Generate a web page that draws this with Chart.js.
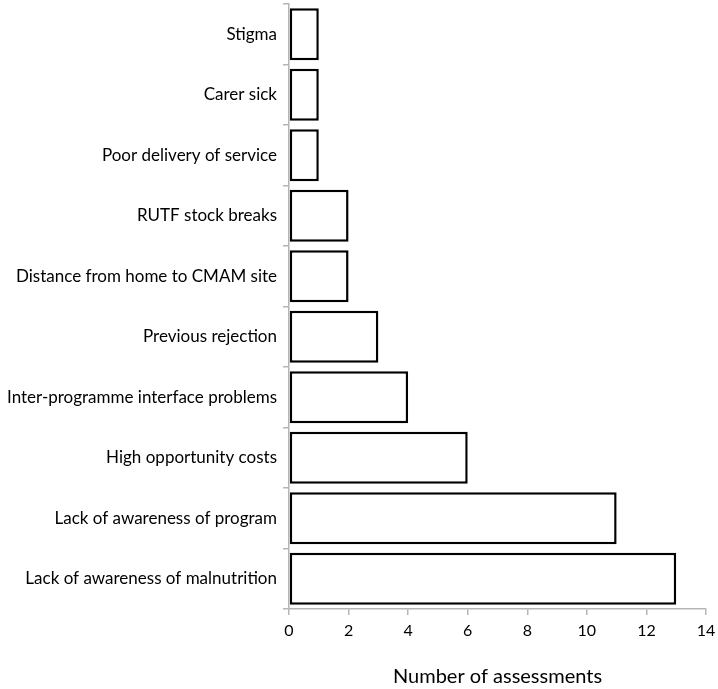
<!DOCTYPE html>
<html>
<head>
<meta charset="utf-8">
<script src="https://cdn.jsdelivr.net/npm/chart.js@4.4.0/dist/chart.umd.min.js"></script>
<style>
  html, body { margin: 0; padding: 0; background: #fff; }
  #wrap { width: 718px; height: 689px; }
</style>
</head>
<body>
<div id="wrap"><canvas id="chart" width="718" height="689"></canvas></div>
<script>
const barriers = [
  "Stigma",
  "Carer sick",
  "Poor delivery of service",
  "RUTF stock breaks",
  "Distance from home to CMAM site",
  "Previous rejection",
  "Inter-programme interface problems",
  "High opportunity costs",
  "Lack of awareness of program",
  "Lack of awareness of malnutrition",
];
const assessments = [1, 1, 1, 2, 2, 3, 4, 6, 11, 13];
const xTicks = [0, 2, 4, 6, 8, 10, 12, 14];

const FONT = "Lato, 'Open Sans', sans-serif";
const AXIS_GREY = "#b5b5b5";

const ctx = document.getElementById("chart").getContext("2d");
new Chart(ctx, {
  type: "bar",
  data: {
    labels: barriers,
    datasets: [
      {
        data: assessments,
        backgroundColor: "#ffffff",
        borderColor: "#000000",
        borderWidth: 2.5,
        borderSkipped: false,
        barPercentage: 0.86,
        categoryPercentage: 1,
      },
    ],
  },
  options: {
    indexAxis: "y",
    responsive: false,
    animation: false,
    layout: { padding: { top: 4, right: 12, bottom: 0, left: 0 } },
    plugins: { legend: { display: false }, tooltip: { enabled: false } },
    scales: {
      x: {
        min: 0,
        max: 14,
        afterBuildTicks: (scale) => {
          scale.ticks = xTicks.map((v) => ({ value: v }));
        },
        afterFit: (scale) => {
          scale.height = 80;
          scale.paddingLeft = 0;
          scale.paddingRight = 0;
        },
        ticks: { color: "#000", font: { family: FONT, size: 16 }, padding: 6 },
        grid: { drawOnChartArea: false, tickLength: 6, color: AXIS_GREY, lineWidth: 1.5 },
        border: { color: AXIS_GREY, width: 1.5 },
        title: {
          display: true,
          text: "Number of assessments",
          color: "#000",
          font: { family: FONT, size: 20 },
          padding: { top: 18, bottom: 0 },
        },
      },
      y: {
        afterFit: (scale) => {
          scale.width = 289;
          scale.paddingTop = 0;
          scale.paddingBottom = 0;
        },
        ticks: { color: "#000", font: { family: FONT, size: 17 }, padding: 6 },
        grid: { drawOnChartArea: false, tickLength: 6, color: AXIS_GREY, lineWidth: 1.5, offset: true },
        border: { color: AXIS_GREY, width: 1.5 },
      },
    },
  },
});
</script>
</body>
</html>
